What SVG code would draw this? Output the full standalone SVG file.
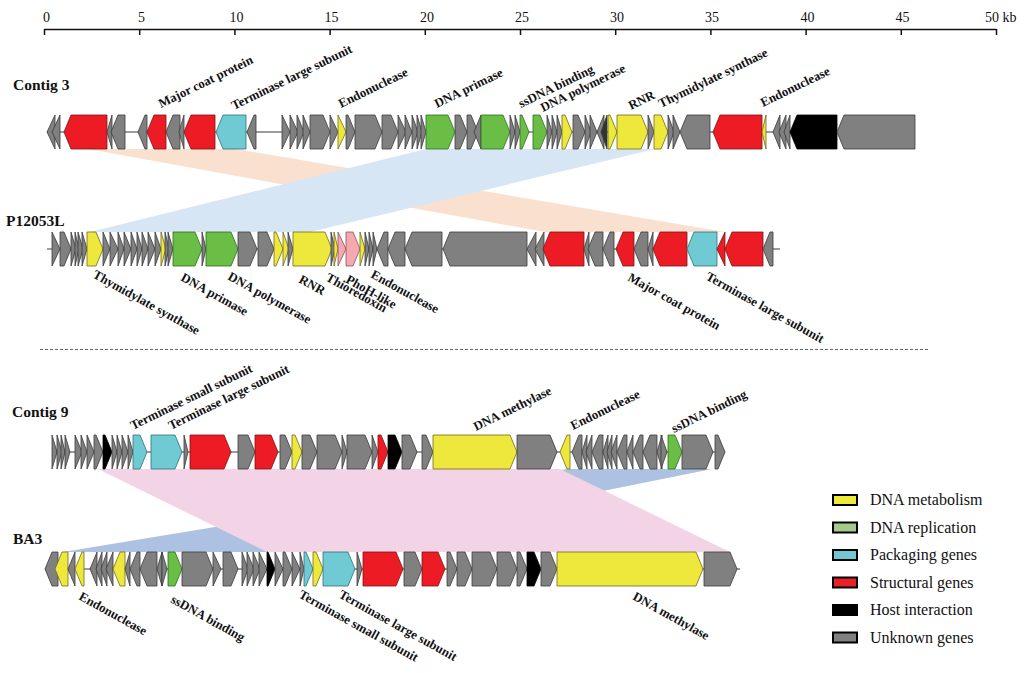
<svg xmlns="http://www.w3.org/2000/svg" width="1024" height="673" viewBox="0 0 1024 673">
<style>
.g{fill:#808080;stroke:#3a3a3a;stroke-width:0.8}
.r{fill:#ed1c24;stroke:#7a1414;stroke-width:0.8}
.y{fill:#efe83c;stroke:#6f6a1a;stroke-width:0.8}
.c{fill:#6fcad4;stroke:#2e7078;stroke-width:0.8}
.gr{fill:#6abd45;stroke:#2c6e1f;stroke-width:0.8}
.k{fill:#000;stroke:#000;stroke-width:0.8}
.p{fill:#f4a9b0;stroke:#8a5058;stroke-width:0.8}
.bb{stroke:#3a3a3a;stroke-width:1}
.lab{font-family:"Liberation Serif",serif;font-size:12.8px;font-weight:bold;fill:#111}
.row{font-family:"Liberation Serif",serif;font-size:15.5px;font-weight:bold;fill:#111}
.ax{font-family:"Liberation Serif",serif;font-size:14px;fill:#111}
.leg{font-family:"Liberation Serif",serif;font-size:16px;fill:#111}
.lb{stroke:#000;stroke-width:2}
</style>
<rect width="1024" height="673" fill="#fff"/>

<g id="axis">
<line x1="44.5" y1="29.5" x2="996.5" y2="29.5" stroke="#111" stroke-width="1.5"/>
<g stroke="#111" stroke-width="1.5">
<line x1="44.5" y1="29" x2="44.5" y2="35"/><line x1="139.7" y1="29" x2="139.7" y2="35"/><line x1="234.9" y1="29" x2="234.9" y2="35"/><line x1="330.1" y1="29" x2="330.1" y2="35"/><line x1="425.3" y1="29" x2="425.3" y2="35"/><line x1="520.5" y1="29" x2="520.5" y2="35"/><line x1="615.7" y1="29" x2="615.7" y2="35"/><line x1="710.9" y1="29" x2="710.9" y2="35"/><line x1="806.1" y1="29" x2="806.1" y2="35"/><line x1="901.3" y1="29" x2="901.3" y2="35"/><line x1="996.5" y1="29" x2="996.5" y2="35"/>
</g>
<g class="ax" text-anchor="middle">
<text x="46.5" y="21.5">0</text><text x="141.5" y="21.5">5</text><text x="236.5" y="21.5">10</text><text x="331.5" y="21.5">15</text><text x="427" y="21.5">20</text><text x="522" y="21.5">25</text><text x="617" y="21.5">30</text><text x="712" y="21.5">35</text><text x="807.5" y="21.5">40</text><text x="902.5" y="21.5">45</text>
</g>
<text class="ax" x="985" y="21.5">50 kb</text>
</g>

<g id="connectors">
<polygon points="88,149 236,149 725,232 545,232" fill="#f9e0cf"/>
<polygon points="426,149 655,149 310,232 90,232" fill="#d6e6f4"/>
<polygon points="567,469 712,469 300,552 63,552" fill="#adc1e2"/>
<polygon points="98,469 560,469 730,552 267,552" fill="#f3d3e6"/>
</g>

<line x1="40" y1="349.5" x2="930" y2="349.5" stroke="#666" stroke-width="1" stroke-dasharray="3,2"/>

<g id="contig3">
<text class="row" x="13" y="90">Contig 3</text>
<line class="bb" x1="47" y1="132" x2="915" y2="132"/>
<polygon class="g" points="47,132 55,115 55,149"/>
<polygon class="g" points="52,132 60,115 60,149"/>
<polygon class="r" points="64,132 71,115 107,115 107,149 71,149"/>
<polygon class="g" points="107,132 112,115 112,149"/>
<polygon class="g" points="111,132 118,115 125,115 125,149 118,149"/>
<polygon class="g" points="138,132 145,115 147,115 147,149 145,149"/>
<polygon class="r" points="147,132 154,115 166,115 166,149 154,149"/>
<polygon class="g" points="166,132 173,115 180,115 180,149 173,149"/>
<polygon class="g" points="179,132 184,115 184,149"/>
<polygon class="r" points="184,132 191,115 215,115 215,149 191,149"/>
<polygon class="c" points="216,132 223,115 246,115 246,149 223,149"/>
<polygon class="g" points="247,132 254,115 256,115 256,149 254,149"/>
<polygon class="g" points="282,115 290,132 282,149"/>
<polygon class="g" points="290,115 298,132 290,149"/>
<polygon class="g" points="297,115 304,132 297,149"/>
<polygon class="g" points="303,115 310,132 303,149"/>
<polygon class="g" points="310,115 323,115 330,132 323,149 310,149"/>
<polygon class="g" points="330,115 338,132 330,149"/>
<polygon class="y" points="338,115 346,132 338,149"/>
<polygon class="g" points="346,115 348,115 355,132 348,149 346,149"/>
<polygon class="g" points="355,115 375,115 382,132 375,149 355,149"/>
<polygon class="g" points="382,115 391,115 398,132 391,149 382,149"/>
<polygon class="g" points="398,115 406,132 398,149"/>
<polygon class="g" points="405,115 412,132 405,149"/>
<polygon class="g" points="412,115 418,132 412,149"/>
<polygon class="g" points="417,115 422,132 417,149"/>
<polygon class="g" points="421,115 426,132 421,149"/>
<polygon class="gr" points="426,115 448,115 455,132 448,149 426,149"/>
<polygon class="g" points="455,115 460,115 467,132 460,149 455,149"/>
<polygon class="g" points="467,115 471,115 478,132 471,149 467,149"/>
<polygon class="g" points="474,132 481,115 481,149"/>
<polygon class="gr" points="481,115 503,115 510,132 503,149 481,149"/>
<polygon class="g" points="510,115 515,132 510,149"/>
<polygon class="g" points="515,115 520,132 515,149"/>
<polygon class="gr" points="520,115 522,115 529,132 522,149 520,149"/>
<polygon class="gr" points="533,115 540,115 547,132 540,149 533,149"/>
<polygon class="g" points="547,115 552,132 547,149"/>
<polygon class="g" points="552,115 557,132 552,149"/>
<polygon class="g" points="557,115 562,132 557,149"/>
<polygon class="y" points="562,115 565,115 572,132 565,149 562,149"/>
<polygon class="g" points="573,115 578,115 585,132 578,149 573,149"/>
<polygon class="g" points="585,115 591,132 585,149"/>
<polygon class="g" points="590,115 597,132 590,149"/>
<polygon class="g" points="597,132 604,115 604,149"/>
<polygon class="g" points="601,132 607,115 607,149" style="fill:#333"/>
<polygon class="y" points="608,115 610,115 617,132 610,149 608,149"/>
<polygon class="y" points="617,115 641,115 648,132 641,149 617,149"/>
<polygon class="g" points="648,115 654,132 648,149"/>
<polygon class="y" points="654,115 661,115 668,132 661,149 654,149"/>
<polygon class="g" points="668,115 674,132 668,149"/>
<polygon class="g" points="673,115 680,132 673,149"/>
<polygon class="g" points="680,132 687,115 710,115 710,149 687,149"/>
<polygon class="r" points="713,132 720,115 762,115 762,149 720,149"/>
<polygon class="y" points="762,132 766,115 766,149"/>
<polygon class="g" points="773,132 780,115 780,149"/>
<polygon class="g" points="779,132 786,115 786,149"/>
<polygon class="g" points="784,132 790,115 790,149"/>
<polygon class="k" points="790,132 797,115 837,115 837,149 797,149"/>
<polygon class="g" points="837,132 844,115 915,115 915,149 844,149"/>
<g class="lab">
<text transform="translate(161,108) rotate(-26)">Major coat protein</text>
<text transform="translate(234,110) rotate(-26)">Terminase large subunit</text>
<text transform="translate(341,108) rotate(-26)">Endonuclease</text>
<text transform="translate(437,108) rotate(-26)">DNA primase</text>
<text transform="translate(521,108) rotate(-26)">ssDNA binding</text>
<text transform="translate(543,112) rotate(-26)">DNA polymerase</text>
<text transform="translate(631,110) rotate(-26)">RNR</text>
<text transform="translate(661,108) rotate(-26)">Thymidylate synthase</text>
<text transform="translate(763,107) rotate(-26)">Endonuclease</text>
</g>
</g>

<g id="p12053l">
<text class="row" x="6" y="226">P12053L</text>
<line class="bb" x1="47" y1="249" x2="780" y2="249"/>
<polygon class="g" points="52,232 60,249 52,266"/>
<polygon class="g" points="60,232 64,232 71,249 64,266 60,266"/>
<polygon class="g" points="71,232 76,249 71,266"/>
<polygon class="g" points="75,232 79,249 75,266"/>
<polygon class="g" points="78,232 83,249 78,266"/>
<polygon class="g" points="82,232 87,249 82,266"/>
<polygon class="y" points="87,232 96,232 103,249 96,266 87,266"/>
<polygon class="g" points="103,232 110,249 103,266"/>
<polygon class="g" points="110,232 118,249 110,266"/>
<polygon class="g" points="118,232 124,249 118,266"/>
<polygon class="g" points="124,232 131,249 124,266"/>
<polygon class="g" points="131,232 137,249 131,266"/>
<polygon class="g" points="137,232 142,249 137,266"/>
<polygon class="g" points="142,232 148,249 142,266"/>
<polygon class="g" points="148,232 155,249 148,266"/>
<polygon class="g" points="155,232 161,249 155,266"/>
<polygon class="y" points="161,232 166,249 161,266"/>
<polygon class="g" points="165,232 169,249 165,266"/>
<polygon class="g" points="168,232 173,249 168,266"/>
<polygon class="gr" points="173,232 195,232 202,249 195,266 173,266"/>
<polygon class="g" points="202,232 206,249 202,266"/>
<polygon class="gr" points="206,232 231,232 238,249 231,266 206,266"/>
<polygon class="g" points="238,232 250,232 257,249 250,266 238,266"/>
<polygon class="g" points="258,232 267,232 274,249 267,266 258,266"/>
<polygon class="y" points="274,232 276,232 283,249 276,266 274,266"/>
<polygon class="y" points="283,232 289,249 283,266"/>
<polygon class="g" points="288,232 293,249 288,266"/>
<polygon class="y" points="293,232 325,232 332,249 325,266 293,266"/>
<polygon class="g" points="331,232 335,249 331,266"/>
<polygon class="y" points="334,232 338,249 334,266"/>
<polygon class="p" points="338,232 346,249 338,266"/>
<polygon class="p" points="346,232 353,232 360,249 353,266 346,266"/>
<polygon class="y" points="360,232 365,249 360,266"/>
<polygon class="g" points="365,232 369,249 365,266"/>
<polygon class="g" points="369,232 373,249 369,266"/>
<polygon class="g" points="373,232 377,249 373,266"/>
<polygon class="g" points="377,249 384,232 388,232 388,266 384,266"/>
<polygon class="g" points="388,249 395,232 405,232 405,266 395,266"/>
<polygon class="g" points="405,249 412,232 442,232 442,266 412,266"/>
<polygon class="g" points="443,249 450,232 527,232 527,266 450,266"/>
<polygon class="g" points="527,249 536,232 536,266"/>
<polygon class="g" points="535,249 544,232 544,266"/>
<polygon class="r" points="543,249 550,232 584,232 584,266 550,266"/>
<polygon class="g" points="584,249 589,232 589,266"/>
<polygon class="g" points="588,249 595,232 603,232 603,266 595,266"/>
<polygon class="g" points="603,249 610,232 614,232 614,266 610,266"/>
<polygon class="r" points="616,249 623,232 634,232 634,266 623,266"/>
<polygon class="g" points="634,249 641,232 648,232 648,266 641,266"/>
<polygon class="g" points="648,249 653,232 653,266"/>
<polygon class="r" points="653,249 660,232 687,232 687,266 660,266"/>
<polygon class="c" points="687,249 694,232 717,232 717,266 694,266"/>
<polygon class="r" points="717,249 725,232 725,266"/>
<polygon class="r" points="725,249 732,232 763,232 763,266 732,266"/>
<polygon class="g" points="763,249 770,232 773,232 773,266 770,266"/>
<g class="lab">
<text transform="translate(92,277) rotate(29)">Thymidylate synthase</text>
<text transform="translate(180,280) rotate(29)">DNA primase</text>
<text transform="translate(227,279) rotate(29)">DNA polymerase</text>
<text transform="translate(298,282) rotate(29)">RNR</text>
<text transform="translate(325,280) rotate(29)">Thioredoxin</text>
<text transform="translate(345,282) rotate(29)">PhoH-like</text>
<text transform="translate(370,277) rotate(29)">Endonuclease</text>
<text transform="translate(627,280) rotate(29)">Major coat protein</text>
<text transform="translate(705,279) rotate(29)">Terminase large subunit</text>
</g>
</g>

<g id="contig9">
<text class="row" x="12" y="417">Contig 9</text>
<line class="bb" x1="52" y1="452" x2="725" y2="452"/>
<polygon class="g" points="52,435 57,452 52,469"/>
<polygon class="g" points="57,435 62,452 57,469"/>
<polygon class="g" points="61,435 65,452 61,469"/>
<polygon class="g" points="65,435 70,452 65,469"/>
<polygon class="g" points="75,435 82,452 75,469"/>
<polygon class="g" points="81,435 87,452 81,469"/>
<polygon class="g" points="87,435 94,452 87,469"/>
<polygon class="g" points="94,435 96,435 103,452 96,469 94,469"/>
<polygon class="k" points="103,435 105,435 112,452 105,469 103,469"/>
<polygon class="g" points="112,435 117,452 112,469"/>
<polygon class="g" points="117,435 122,452 117,469"/>
<polygon class="g" points="122,435 128,452 122,469"/>
<polygon class="g" points="128,435 133,452 128,469"/>
<polygon class="c" points="133,435 140,435 147,452 140,469 133,469"/>
<polygon class="c" points="151,435 175,435 182,452 175,469 151,469"/>
<polygon class="g" points="184,435 188,452 184,469"/>
<polygon class="r" points="190,435 224,435 231,452 224,469 190,469"/>
<polygon class="g" points="238,435 248,435 255,452 248,469 238,469"/>
<polygon class="r" points="255,435 271,435 278,452 271,469 255,469"/>
<polygon class="g" points="280,435 285,435 292,452 285,469 280,469"/>
<polygon class="y" points="292,435 295,435 302,452 295,469 292,469"/>
<polygon class="g" points="302,435 310,435 317,452 310,469 302,469"/>
<polygon class="g" points="317,435 335,435 342,452 335,469 317,469"/>
<polygon class="g" points="342,435 347,452 342,469"/>
<polygon class="g" points="347,435 365,435 372,452 365,469 347,469"/>
<polygon class="g" points="372,435 378,452 372,469"/>
<polygon class="r" points="378,435 381,435 388,452 381,469 378,469"/>
<polygon class="k" points="388,435 395,435 402,452 395,469 388,469"/>
<polygon class="g" points="402,435 410,435 417,452 410,469 402,469"/>
<polygon class="g" points="422,435 426,435 433,452 426,469 422,469"/>
<polygon class="y" points="433,435 510,435 517,452 510,469 433,469"/>
<polygon class="g" points="517,435 550,435 557,452 550,469 517,469"/>
<polygon class="y" points="560,452 567,435 570,435 570,469 567,469"/>
<polygon class="g" points="572,452 579,435 582,435 582,469 579,469"/>
<polygon class="g" points="582,452 587,435 587,469"/>
<polygon class="g" points="586,452 592,435 592,469"/>
<polygon class="g" points="592,452 599,435 603,435 603,469 599,469"/>
<polygon class="g" points="603,452 608,435 608,469"/>
<polygon class="g" points="607,452 612,435 612,469"/>
<polygon class="g" points="611,452 617,435 617,469"/>
<polygon class="g" points="617,452 624,435 627,435 627,469 624,469"/>
<polygon class="g" points="627,452 633,435 633,469"/>
<polygon class="g" points="633,452 640,435 643,435 643,469 640,469"/>
<polygon class="g" points="643,452 650,435 657,435 657,469 650,469"/>
<polygon class="g" points="657,452 662,435 662,469"/>
<polygon class="g" points="661,435 667,452 661,469"/>
<polygon class="gr" points="668,435 675,435 682,452 675,469 668,469"/>
<polygon class="g" points="682,435 706,435 713,452 706,469 682,469"/>
<polygon class="g" points="715,435 718,435 725,452 718,469 715,469"/>
<g class="lab">
<text transform="translate(133,430) rotate(-26)">Terminase small subunit</text>
<text transform="translate(171,430) rotate(-26)">Terminase large subunit</text>
<text transform="translate(476,431) rotate(-26)">DNA methylase</text>
<text transform="translate(573,430) rotate(-26)">Endonuclease</text>
<text transform="translate(674,433) rotate(-26)">ssDNA binding</text>
</g>
</g>

<g id="ba3">
<text class="row" x="13" y="544">BA3</text>
<line class="bb" x1="45" y1="569" x2="740" y2="569"/>
<polygon class="g" points="45,569 52,552 58,552 58,586 52,586"/>
<polygon class="y" points="55,569 62,552 68,552 68,586 62,586"/>
<polygon class="g" points="68,569 75,552 75,586"/>
<polygon class="y" points="75,569 82,552 84,552 84,586 82,586"/>
<polygon class="g" points="90,569 97,552 97,586"/>
<polygon class="g" points="96,569 102,552 102,586"/>
<polygon class="g" points="101,569 107,552 107,586"/>
<polygon class="g" points="106,569 113,552 113,586"/>
<polygon class="y" points="113,569 120,552 125,552 125,586 120,586"/>
<polygon class="g" points="125,569 130,552 130,586"/>
<polygon class="g" points="130,569 137,552 140,552 140,586 137,586"/>
<polygon class="g" points="140,569 147,552 157,552 157,586 147,586"/>
<polygon class="g" points="157,569 162,552 162,586"/>
<polygon class="g" points="162,552 167,569 162,586"/>
<polygon class="gr" points="168,552 175,552 182,569 175,586 168,586"/>
<polygon class="g" points="182,552 206,552 213,569 206,586 182,586"/>
<polygon class="g" points="213,552 221,569 213,586"/>
<polygon class="g" points="223,552 231,552 238,569 231,586 223,586"/>
<polygon class="g" points="242,552 248,569 242,586"/>
<polygon class="g" points="247,552 254,569 247,586"/>
<polygon class="g" points="253,552 260,569 253,586"/>
<polygon class="g" points="259,552 267,569 259,586"/>
<polygon class="k" points="267,552 268,552 275,569 268,586 267,586"/>
<polygon class="g" points="275,552 283,569 275,586"/>
<polygon class="g" points="283,552 285,552 292,569 285,586 283,586"/>
<polygon class="g" points="292,552 300,569 292,586"/>
<polygon class="g" points="300,552 304,569 300,586"/>
<polygon class="c" points="304,552 306,552 313,569 306,586 304,586"/>
<polygon class="y" points="313,552 316,552 323,569 316,586 313,586"/>
<polygon class="c" points="323,552 348,552 355,569 348,586 323,586"/>
<polygon class="g" points="357,552 362,569 357,586"/>
<polygon class="r" points="363,552 396,552 403,569 396,586 363,586"/>
<polygon class="g" points="404,552 415,552 422,569 415,586 404,586"/>
<polygon class="r" points="422,552 438,552 445,569 438,586 422,586"/>
<polygon class="g" points="447,552 450,552 457,569 450,586 447,586"/>
<polygon class="g" points="457,552 465,552 472,569 465,586 457,586"/>
<polygon class="g" points="472,552 490,552 497,569 490,586 472,586"/>
<polygon class="g" points="497,552 510,552 517,569 510,586 497,586"/>
<polygon class="g" points="517,552 520,552 527,569 520,586 517,586"/>
<polygon class="k" points="527,552 534,552 541,569 534,586 527,586"/>
<polygon class="g" points="541,552 550,552 557,569 550,586 541,586"/>
<polygon class="y" points="557,552 696,552 703,569 696,586 557,586"/>
<polygon class="g" points="704,552 730,552 737,569 730,586 704,586"/>
<g class="lab">
<text transform="translate(78,599) rotate(29)">Endonuclease</text>
<text transform="translate(170,602) rotate(29)">ssDNA binding</text>
<text transform="translate(298,597) rotate(29)">Terminase small subunit</text>
<text transform="translate(338,597) rotate(29)">Terminase large subunit</text>
<text transform="translate(632,599) rotate(29)">DNA methylase</text>
</g>
</g>

<g id="legend">
<rect class="lb" x="833" y="495" width="24" height="10" fill="#eeea3a"/>
<rect class="lb" x="833" y="522.5" width="24" height="10" fill="#a3cc8a"/>
<rect class="lb" x="833" y="550" width="24" height="10" fill="#70c8d4"/>
<rect class="lb" x="833" y="577.5" width="24" height="10" fill="#e8202a"/>
<rect class="lb" x="833" y="605" width="24" height="10" fill="#000"/>
<rect class="lb" x="833" y="632.5" width="24" height="10" fill="#808080"/>
<g class="leg">
<text x="870" y="505">DNA metabolism</text>
<text x="870" y="532.5">DNA replication</text>
<text x="870" y="560">Packaging genes</text>
<text x="870" y="587.5">Structural genes</text>
<text x="870" y="615">Host interaction</text>
<text x="870" y="642.5">Unknown genes</text>
</g>
</g>
</svg>
